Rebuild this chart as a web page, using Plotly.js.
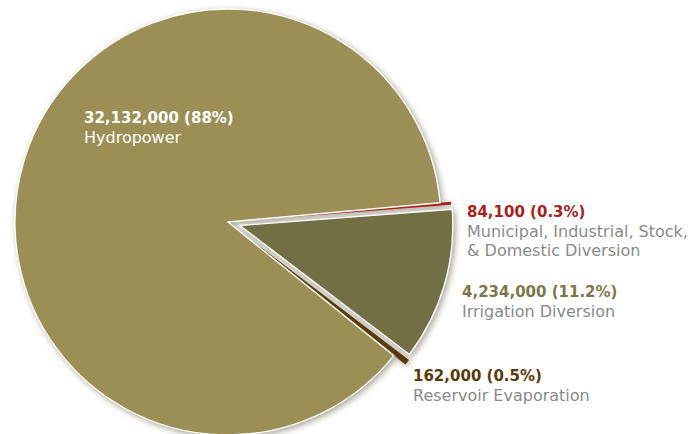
<!DOCTYPE html>
<html>
<head>
<meta charset="utf-8">
<script src="https://cdn.plot.ly/plotly-3.0.1.min.js"></script>
<style>
html,body{margin:0;padding:0;background:#fff;overflow:hidden;width:696px;height:434px;}
#chart{position:absolute;left:0;top:-10px;width:696px;height:470px;}
#chart .pielayer{filter:drop-shadow(2px 2px 3px rgba(60,50,20,0.45));}
</style>
</head>
<body>
<div id="chart"></div>
<script>
// Data (acre-feet)
const categories = ["Municipal, Industrial, Stock, & Domestic Diversion", "Irrigation Diversion", "Reservoir Evaporation", "Hydropower"];
const values = [84100, 4234000, 162000, 32132000];
const valueLabels = ["84,100", "4,234,000", "162,000", "32,132,000"];
const percentLabels = ["0.3%", "11.2%", "0.5%", "88%"];
const nameLines = [["Municipal, Industrial, Stock,", "& Domestic Diversion"], ["Irrigation Diversion"], ["Reservoir Evaporation"], ["Hydropower"]];

const colors = ["#A8221B", "#726F44", "#5A3A08", "#9C8F55"];
const labelColors = ["#A8221B", "#7A7848", "#5A3A08", "#FFFFFF"];
const nameColors = ["#8A8A8A", "#8A8A8A", "#8A8A8A", "#FFFFFF"];
const pulls = [0.05, 0.058, 0.068, 0];
const edgeWidths = [0, 1.4, 0, 1.4];

const W = 696, H = 470, OFF = 10;
function px(x) { return x / W; }
function py(y) { return 1 - (y + OFF) / H; }

// label anchor positions (page pixels)
const labelPos = [[466, 202], [461, 282], [412, 366], [83, 108]];

const annotations = categories.map((c, i) => ({
  xref: 'paper', yref: 'paper',
  x: px(labelPos[i][0]), y: py(labelPos[i][1]),
  xanchor: 'left', yanchor: 'top', align: 'left', showarrow: false,
  borderpad: 0,
  font: {family: '"DejaVu Sans", sans-serif', size: 15, color: nameColors[i]},
  text: '<b><span style="color:' + labelColors[i] + '">' + valueLabels[i] + ' (' + percentLabels[i] + ')</span></b><br>' +
        nameLines[i].map(l => '<span style="font-size:16px">' + l + '</span>').join('<br>')
}));

const trace = {
  type: 'pie',
  labels: categories,
  values: values,
  sort: false,
  direction: 'clockwise',
  rotation: 84.8,
  pull: pulls,
  marker: {colors: colors, line: {color: '#FFFFFF', width: edgeWidths}},
  textinfo: 'none',
  hoverinfo: 'label+value',
  showlegend: false,
  domain: {x: [0.5 / W, 455.5 / W], y: [(H - 459.5) / H, (H - 4.5) / H]}
};

Plotly.newPlot('chart', [trace], {
  width: W, height: H,
  margin: {l: 0, r: 0, t: 0, b: 0},
  paper_bgcolor: '#FFFFFF',
  showlegend: false,
  annotations: annotations
}, {displayModeBar: false, staticPlot: true});
</script>
</body>
</html>
